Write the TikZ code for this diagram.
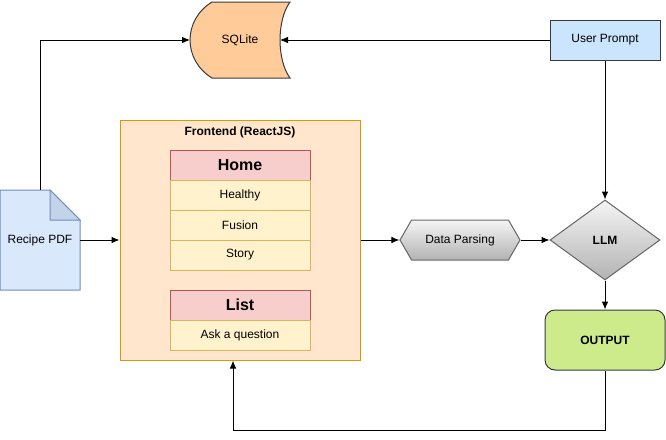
\documentclass[tikz,border=0pt]{standalone}
\usepackage{fontspec}
\setmainfont{Liberation Sans}
\usetikzlibrary{positioning, shapes.geometric, shapes.symbols, arrows.meta}

\definecolor{dark}{HTML}{36393D}
\definecolor{grayline}{HTML}{666666}
\definecolor{sqlfill}{HTML}{FFCC99}
\definecolor{userfill}{HTML}{CCE5FF}
\definecolor{outfill}{HTML}{CDEB8B}
\definecolor{frontfill}{HTML}{FFE6CC}
\definecolor{frontline}{HTML}{D79B00}
\definecolor{headfill}{HTML}{F8CECC}
\definecolor{headline}{HTML}{B85450}
\definecolor{rowfill}{HTML}{FFF2CC}
\definecolor{rowline}{HTML}{D6B656}
\definecolor{pdffill}{HTML}{DAE8FC}
\definecolor{pdfline}{HTML}{6C8EBF}
\definecolor{pdffold}{HTML}{C3D3EA}

\begin{document}
\begin{tikzpicture}[x=0.75pt, y=-0.75pt, font=\fontsize{9}{11}\selectfont]
\tikzstyle{box}=[rectangle, draw=dark, line width=0.75pt, inner sep=0pt]
\tikzstyle{row}=[rectangle, draw=rowline, fill=rowfill, line width=0.75pt, outer sep=0pt, minimum width=105pt, minimum height=22.5pt]
\tikzstyle{head}=[row, draw=headline, fill=headfill, font=\fontsize{12}{14}\selectfont\bfseries]
\tikzstyle{shade}=[draw=grayline, line width=0.75pt, top color=white!96!black, bottom color=black!30, inner sep=0pt]
\tikzstyle{connect}=[draw, -{Latex[length=6pt, width=5pt]}, line width=0.75pt]
\useasboundingbox (0,0) rectangle (666,439);

% SQLite store
\draw[draw=dark, fill=sqlfill, line width=0.75pt] (212,2) -- (290,2) .. controls (276.7,20) and (276.7,60) .. (290,78) -- (212,78) .. controls (182.7,60) and (182.7,20) .. cycle;
\node (sql) at (240,40) {SQLite};
\coordinate (sqlw) at (190,40);
\coordinate (sqle) at (280,40);

% recipe document
\draw[draw=pdfline, fill=pdffill, line width=0.75pt] (0,190) -- (50,190) -- (80,220) -- (80,290) -- (0,290) -- cycle;
\draw[draw=pdfline, fill=pdffold, line width=0.75pt] (50,190) -- (50,220) -- (80,220) -- cycle;
\node[minimum width=60pt, minimum height=75pt, inner sep=0pt] (pdf) at (40,240) {Recipe PDF};

% frontend
\node[rectangle, draw=frontline, fill=frontfill, line width=0.75pt, minimum width=180pt, minimum height=180pt] (front) at (240,240) {};
\node[font=\fontsize{9}{11}\selectfont\bfseries] (title) at (240,132) {Frontend (ReactJS)};
\node[head] (home) at (240,165) {Home};
\node[row, below=0pt of home] (healthy) {Healthy};
\node[row, below=0pt of healthy] (fusion) {Fusion};
\node[row, below=0pt of fusion] (story) {Story};
\node[head] (list) at (240,305) {List};
\node[row, below=0pt of list] (ask) {Ask a question};

% right side
\node[box, fill=userfill, minimum width=82.5pt, minimum height=30pt] (user) at (605,40) {User Prompt};
\node[signal, signal to=west and east, signal pointer angle=120, shade, minimum width=90pt, minimum height=30pt] (parse) at (460,240) {Data Parsing};
\node[diamond, shade, minimum width=82.5pt, minimum height=60pt, font=\fontsize{9}{11}\selectfont\bfseries] (llm) at (605,240) {LLM};
\node[box, rounded corners=7.5pt, fill=outfill, minimum width=90pt, minimum height=45pt, font=\fontsize{9}{11}\selectfont\bfseries] (out) at (605,340) {OUTPUT};

\path (pdf.north) edge [connect, to path={|- (\tikztotarget)}] (sqlw)
      (user.west) edge [connect] (sqle)
      (pdf.east) edge [connect] (front.west)
      (front.east) edge [connect] (parse.west)
      (parse.east) edge [connect] (llm.west)
      (user.south) edge [connect] (llm.north)
      (llm.south) edge [connect] (out.north);
\draw[connect] (out.south) -- ++(0,60) -| ([xshift=-5.25pt]front.south);
\end{tikzpicture}
\end{document}
